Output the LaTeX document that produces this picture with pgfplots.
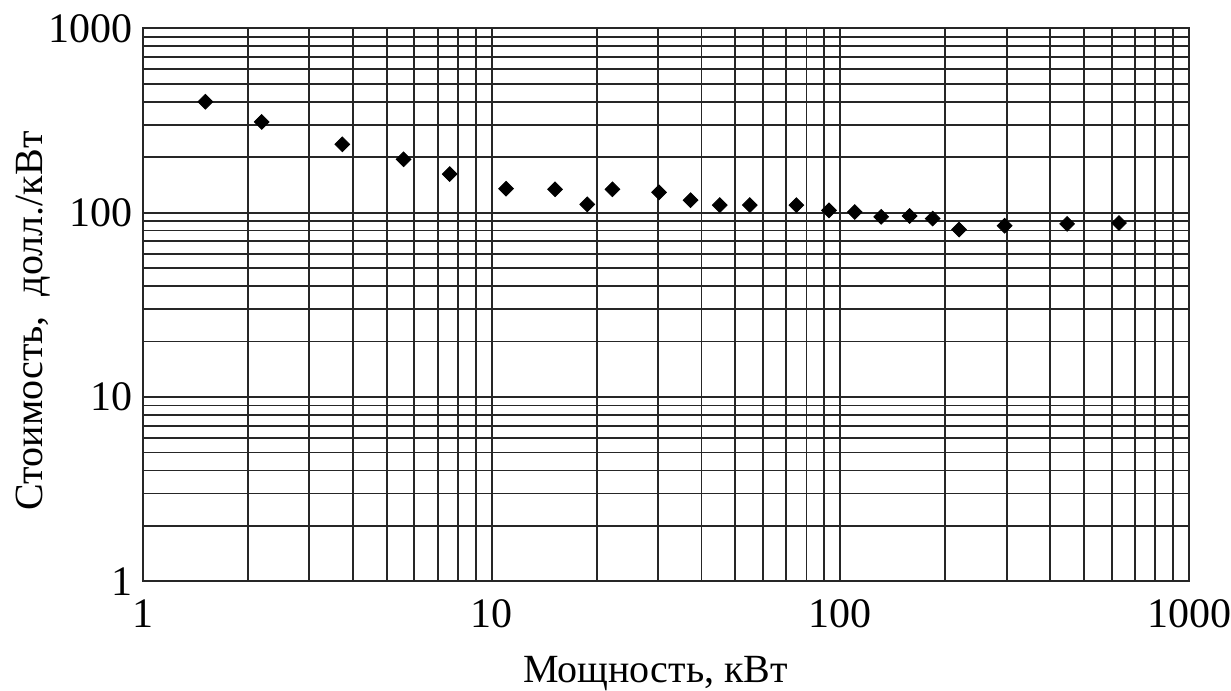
\documentclass[border=0pt]{standalone}
\usepackage{fontspec}
\setmainfont{Liberation Serif}
\usepackage{pgfplots}
\pgfplotsset{compat=1.18}
\begin{document}
\begin{tikzpicture}
\begin{loglogaxis}[
  name=ax,
  scale only axis,
  width=523pt, height=276.5pt,
  xmin=1, xmax=1000, ymin=1, ymax=1000,
  xtick={1,10,100,1000}, xticklabels={1,10,100,1000},
  ytick={1,10,100,1000}, yticklabels={1,10,100,1000},
  grid=both,
  major grid style={draw=black!85, line width=0.9pt},
  minor grid style={draw=black!85, line width=0.9pt},
  axis line style={draw=black!85, line width=1pt},
  major tick length=0pt, minor tick length=0pt,
  ticklabel style={font=\fontsize{21}{21}\selectfont},
  xticklabel style={yshift=-5.5pt},
  yticklabel style={xshift=-1.5pt},
  xlabel={Мощность, кВт},
  ylabel={Стоимость,\ \ долл./кВт},
  label style={font=\fontsize{20}{20}\selectfont},
  xlabel style={at={(axis description cs:0.49,-0.1826)}, anchor=base},
  ylabel style={at={(axis description cs:-0.0956,0.471)}, anchor=base},
]
\addplot[only marks, mark=square*, mark size=2.6pt, mark options={rotate=45, fill=black, draw=black}] coordinates {
(1.51,400) (2.19,311) (3.73,235) (5.59,195) (7.58,162)
(11.0,135) (15.2,134) (18.8,111) (22.2,134) (30.2,129)
(37.2,117) (45.1,110) (55.0,110) (74.8,110) (92.8,103)
(110,101) (131,95) (158,96) (184,93) (219,81)
(296,85) (447,87) (630,88)
};
\end{loglogaxis}
\pgfresetboundingbox
\path ([shift={(-71.5pt,-54.5pt)}]ax.south west) rectangle ([shift={(21pt,14.2pt)}]ax.north east);
\end{tikzpicture}
\end{document}
